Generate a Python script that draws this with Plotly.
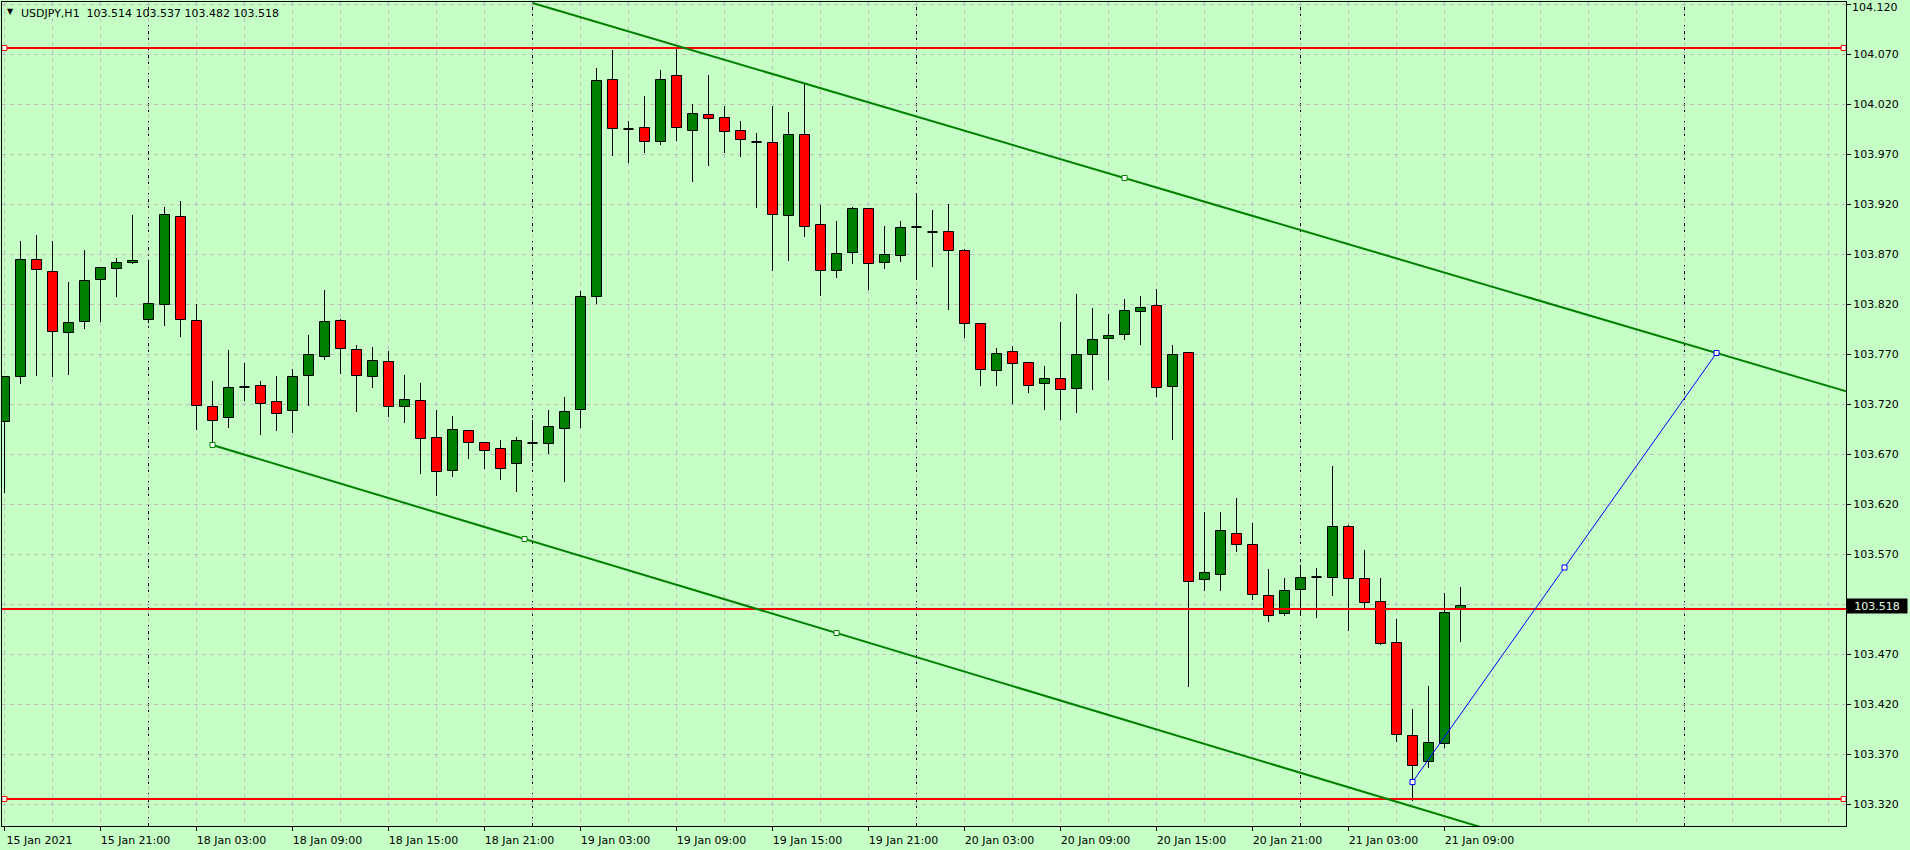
import plotly.graph_objects as go

# ---------------- data (USDJPY H1, bar index 0 = 15 Jan 2021 15:00) ----------------
opens = [103.702, 103.747, 103.864, 103.852, 103.791, 103.802, 103.844, 103.855, 103.861,
         103.804, 103.819, 103.907, 103.803, 103.717, 103.706, 103.737, 103.738, 103.722,
         103.713, 103.748, 103.767, 103.803, 103.774, 103.747, 103.762, 103.717, 103.723,
         103.686, 103.653, 103.693, 103.681, 103.675, 103.660,
         103.681, 103.680, 103.695, 103.714, 103.827, 104.044, 103.995, 103.996, 103.982,
         104.048, 103.993, 104.009, 104.006, 103.993, 103.982, 103.981, 103.908, 103.989,
         103.899, 103.853, 103.871, 103.915, 103.861, 103.868,
         103.897, 103.892, 103.892, 103.873, 103.800, 103.753, 103.772, 103.761, 103.740,
         103.745, 103.735, 103.769, 103.785, 103.789, 103.812, 103.818, 103.737, 103.771,
         103.544, 103.549, 103.590, 103.579, 103.528, 103.510,
         103.534, 103.547, 103.546, 103.597, 103.545, 103.522, 103.481, 103.388, 103.362,
         103.380, 103.514]
highs = [103.748, 103.883, 103.889, 103.883, 103.842, 103.874, 103.857, 103.866, 103.909,
         103.864, 103.917, 103.923, 103.820, 103.743, 103.774, 103.761, 103.743, 103.748,
         103.755, 103.789, 103.834, 103.805, 103.779, 103.777, 103.773, 103.749, 103.741,
         103.714, 103.708, 103.693, 103.682, 103.684, 103.687,
         103.704, 103.714, 103.727, 103.833, 104.056, 104.074, 104.003, 104.028, 104.054,
         104.077, 104.020, 104.049, 104.018, 104.003, 103.991, 104.018, 104.012, 104.041,
         103.919, 103.903, 103.917, 103.916, 103.898, 103.903,
         103.930, 103.914, 103.920, 103.875, 103.801, 103.776, 103.778, 103.761, 103.758,
         103.802, 103.830, 103.816, 103.810, 103.825, 103.828, 103.835, 103.779, 103.771,
         103.612, 103.612, 103.626, 103.601, 103.555, 103.546,
         103.559, 103.556, 103.658, 103.599, 103.574, 103.546, 103.505, 103.415, 103.438,
         103.531, 103.537]
lows = [103.631, 103.740, 103.748, 103.747, 103.749, 103.795, 103.802, 103.827, 103.860,
        103.801, 103.798, 103.787, 103.694, 103.681, 103.696, 103.723, 103.689, 103.693,
        103.691, 103.718, 103.764, 103.750, 103.712, 103.736, 103.707, 103.701, 103.650,
        103.628, 103.647, 103.665, 103.655, 103.644, 103.632,
        103.663, 103.670, 103.642, 103.696, 103.820, 103.968, 103.961, 103.971, 103.979,
        103.983, 103.942, 103.958, 103.971, 103.967, 103.916, 103.853, 103.863, 103.887,
        103.828, 103.846, 103.860, 103.834, 103.855, 103.862,
        103.844, 103.857, 103.814, 103.786, 103.738, 103.738, 103.720, 103.731, 103.714,
        103.704, 103.711, 103.734, 103.744, 103.784, 103.779, 103.727, 103.684, 103.437,
        103.533, 103.533, 103.572, 103.524, 103.502, 103.508,
        103.508, 103.506, 103.528, 103.493, 103.516, 103.479, 103.382, 103.323, 103.356,
        103.376, 103.482]
closes = [103.747, 103.864, 103.854, 103.792, 103.801, 103.843, 103.856, 103.861, 103.863,
          103.820, 103.909, 103.804, 103.718, 103.703, 103.736, 103.737, 103.720, 103.710,
          103.747, 103.769, 103.802, 103.775, 103.748, 103.763, 103.717, 103.724, 103.685,
          103.652, 103.694, 103.681, 103.673, 103.655, 103.683,
          103.681, 103.697, 103.712, 103.827, 104.043, 103.995, 103.995, 103.982, 104.044,
          103.996, 104.010, 104.005, 103.992, 103.984, 103.982, 103.909, 103.989, 103.897,
          103.853, 103.870, 103.915, 103.860, 103.869, 103.896,
          103.897, 103.892, 103.873, 103.800, 103.754, 103.770, 103.760, 103.738, 103.745,
          103.734, 103.769, 103.784, 103.788, 103.813, 103.816, 103.736, 103.769, 103.542,
          103.551, 103.593, 103.579, 103.529, 103.508, 103.533,
          103.546, 103.547, 103.597, 103.545, 103.521, 103.480, 103.389, 103.358, 103.381,
          103.511, 103.518]

tick_idx = [0, 6, 12, 18, 24, 30, 36, 42, 48, 54, 60, 66, 72, 78, 84, 90]
tick_labels = ["15 Jan 2021", "15 Jan 21:00", "18 Jan 03:00", "18 Jan 09:00",
               "18 Jan 15:00", "18 Jan 21:00", "19 Jan 03:00", "19 Jan 09:00",
               "19 Jan 15:00", "19 Jan 21:00", "20 Jan 03:00", "20 Jan 09:00",
               "20 Jan 15:00", "20 Jan 21:00", "21 Jan 03:00", "21 Jan 09:00"]
day_separators = [9, 33, 57, 81, 105]
price_ticks = [103.320, 103.370, 103.420, 103.470, 103.520, 103.570, 103.620, 103.670,
               103.720, 103.770, 103.820, 103.870, 103.920, 103.970, 104.020, 104.070, 104.120]
hidden_tick = 103.520          # covered by the current-price label
top_tick = 104.120             # drawn as a separate label so it stays inside the page

title_text = "USDJPY,H1  103.514 103.537 103.482 103.518"
last_price = 103.518

hlines = [104.076, 103.515, 103.325]
hline_marked = [True, False, True]
upper_trend_t, upper_trend_p = [33, 107], [104.121, 103.771]
lower_trend_t, lower_trend_p = [13, 52], [103.679, 103.491]
blue_t, blue_p = [88, 107], [103.342, 103.771]

x_range = [-0.156, 115.094]
y_range = [103.298, 104.122]

# ---------------- styles ----------------
BG = "rgb(198,255,198)"
GRID = "#bdbdbd"
UP = "#008000"
DOWN = "#ff0000"
BODY_W = 0.625

fig = go.Figure()

n = len(opens)
idx = list(range(n))

# wicks (split so the line does not cross the body)
wx, wy = [], []
for i in idx:
    o, h, l, c = opens[i], highs[i], lows[i], closes[i]
    top, bot = max(o, c), min(o, c)
    wx += [i, i, None, i, i, None]
    wy += [top, h, None, l, bot, None]
fig.add_trace(go.Scatter(x=wx, y=wy, mode="lines", line=dict(color="black", width=1),
                         hoverinfo="skip"))

# bodies
bx, by, bb, bc = [], [], [], []
dx, dy = [], []
for i in idx:
    o, c = opens[i], closes[i]
    if abs(c - o) < 1e-9:
        dx += [i - BODY_W / 2, i + BODY_W / 2, None]
        dy += [o, o, None]
        continue
    bx.append(i)
    by.append(abs(c - o))
    bb.append(min(o, c))
    bc.append(UP if c > o else DOWN)
fig.add_trace(go.Bar(x=bx, y=by, base=bb, width=BODY_W,
                     marker=dict(color=bc, line=dict(color="black", width=1)),
                     hoverinfo="skip"))
fig.add_trace(go.Scatter(x=dx, y=dy, mode="lines", line=dict(color="black", width=2),
                         hoverinfo="skip"))

# horizontal red lines
for p, marked in zip(hlines, hline_marked):
    fig.add_trace(go.Scatter(x=x_range, y=[p, p], mode="lines",
                             line=dict(color="red", width=2), hoverinfo="skip"))
    if marked:
        fig.add_trace(go.Scatter(x=[x_range[0] + 0.15, x_range[1] - 0.15], y=[p, p],
                                 mode="markers",
                                 marker=dict(symbol="square", size=5, color="white",
                                             line=dict(color="red", width=1)),
                                 hoverinfo="skip", cliponaxis=False))


def ray(t, p, t_end):
    slope = (p[1] - p[0]) / (t[1] - t[0])
    return [t[0], t_end], [p[0], p[0] + slope * (t_end - t[0])]


# trend lines (rays to the right)
for t, p in [(upper_trend_t, upper_trend_p), (lower_trend_t, lower_trend_p)]:
    rx, ry = ray(t, p, 125)
    fig.add_trace(go.Scatter(x=rx, y=ry, mode="lines", line=dict(color=UP, width=2),
                             hoverinfo="skip"))

# markers of trendlines
fig.add_trace(go.Scatter(
    x=[lower_trend_t[0], (lower_trend_t[0] + lower_trend_t[1]) / 2, lower_trend_t[1],
       (upper_trend_t[0] + upper_trend_t[1]) / 2],
    y=[lower_trend_p[0], (lower_trend_p[0] + lower_trend_p[1]) / 2, lower_trend_p[1],
       (upper_trend_p[0] + upper_trend_p[1]) / 2],
    mode="markers",
    marker=dict(symbol="square", size=5, color="white", line=dict(color=UP, width=1)),
    hoverinfo="skip"))

# blue line
fig.add_trace(go.Scatter(x=blue_t, y=blue_p, mode="lines", line=dict(color="blue", width=1),
                         hoverinfo="skip"))
fig.add_trace(go.Scatter(x=[blue_t[0], (blue_t[0] + blue_t[1]) / 2, blue_t[1]],
                         y=[blue_p[0], (blue_p[0] + blue_p[1]) / 2, blue_p[1]],
                         mode="markers",
                         marker=dict(symbol="square", size=5, color="white",
                                     line=dict(color="blue", width=1)),
                         hoverinfo="skip"))

# day separators
for s in day_separators:
    fig.add_shape(type="line", x0=s, x1=s, y0=0, y1=1, xref="x", yref="paper",
                  line=dict(color="black", width=1, dash="3px,3px"), layer="below")

# title
fig.add_annotation(xref="paper", yref="paper", x=0, y=1, xanchor="left", yanchor="middle",
                   xshift=3, yshift=-9, text="▼", showarrow=False,
                   font=dict(size=8, color="black"))
fig.add_annotation(xref="paper", yref="paper", x=0, y=1, xanchor="left", yanchor="middle",
                   xshift=17, yshift=-11, text=title_text, showarrow=False,
                   font=dict(size=11, color="black"))

# top price label (kept inside the page)
fig.add_annotation(xref="paper", yref="paper", x=1, y=1, xanchor="left", yanchor="top",
                   xshift=5, yshift=2, text=f"{top_tick:.3f}", showarrow=False,
                   font=dict(size=11, color="black"), borderpad=0)

# current price label
fig.add_annotation(xref="paper", yref="y", x=1, y=last_price, xanchor="left",
                   yanchor="middle", xshift=0, text=f"{last_price:.3f}", showarrow=False,
                   bgcolor="black", font=dict(size=11, color="#e6ffe6"),
                   width=58, height=12, borderpad=1, align="center")

fig.update_layout(
    width=1910, height=850,
    margin=dict(l=2, r=64, t=2, b=24),
    paper_bgcolor=BG, plot_bgcolor=BG,
    showlegend=False, barmode="overlay", bargap=0,
    font=dict(family="DejaVu Sans", size=11, color="black"),
)
fig.update_xaxes(
    range=x_range, tickvals=tick_idx, ticktext=tick_labels,
    ticks="outside", ticklen=4, tickcolor="black", tickwidth=1,
    ticklabelshift=35, automargin=False,
    showline=True, mirror=True, linecolor="black", linewidth=1,
    showgrid=True, gridcolor=GRID, gridwidth=1, griddash="4px,4px", zeroline=False,
    minor=dict(tickvals=list(range(0, 116, 3)), showgrid=True, gridcolor=GRID,
               gridwidth=1, griddash="4px,4px", ticks=""),
)
fig.update_yaxes(
    side="right", range=y_range, tickvals=price_ticks,
    ticktext=["" if (abs(v - hidden_tick) < 1e-9 or abs(v - top_tick) < 1e-9)
              else f"{v:.3f}" for v in price_ticks],
    ticks="outside", ticklen=4, tickcolor="black", tickwidth=1,
    automargin=False,
    showline=True, mirror=True, linecolor="black", linewidth=1,
    showgrid=True, gridcolor=GRID, gridwidth=1, griddash="4px,4px", zeroline=False,
)

fig.write_html("out.html", config={"displayModeBar": False},
               post_script="document.body.style.margin='0';document.body.style.overflow='hidden';")
